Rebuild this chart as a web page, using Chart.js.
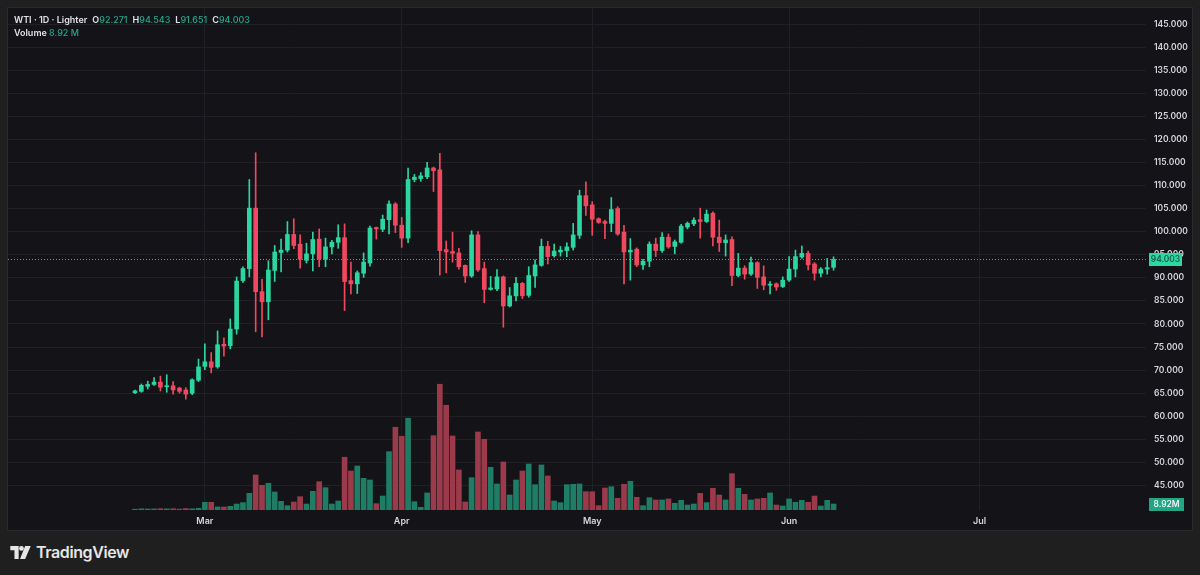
<!DOCTYPE html>
<html>
<head>
<meta charset="utf-8">
<script src="https://cdn.jsdelivr.net/npm/chart.js@4.4.1/dist/chart.umd.min.js"></script>
<style>
  html, body { margin: 0; padding: 0; width: 1200px; height: 575px; overflow: hidden; background: #1f1f1f; font-family: Inter, "Noto Sans", sans-serif; }
  #panel { position: absolute; left: 8px; top: 8px; width: 1184px; height: 522px; background: #131318; outline: 1px solid #2a2a2e; }
  #legend { position: absolute; left: 6px; top: 5px; font-size: 9px; line-height: 13px; color: #e0e2e6; font-weight: 600; z-index: 2; }
  #legend .v { color: #26a68a; font-weight: 500; }
  #legend .gap { display: inline-block; width: 5px; }
  #brand { position: absolute; left: 10px; top: 543px; height: 18px; display: flex; align-items: center; color: #e6e6e6; font-size: 16px; font-weight: 600; letter-spacing: -0.4px; }
  #brand svg { margin-right: 5px; }
</style>
</head>
<body>
<div id="panel">
  <div id="legend">
    <div>WTI · 1D · Lighter<span class="gap"></span>O<span class="v">92.271</span><span class="gap"></span>H<span class="v">94.543</span><span class="gap"></span>L<span class="v">91.651</span><span class="gap"></span>C<span class="v">94.003</span></div>
    <div>Volume <span class="v">8.92 M</span></div>
  </div>
  <canvas id="chart" width="1184" height="522"></canvas>
</div>
<div id="brand">
  <svg width="21" height="13" viewBox="0 0 22 14"><path d="M0 0h9v14h-4.5v-9.5h-4.5z" fill="#e6e6e6"/><circle cx="12" cy="2.6" r="2.6" fill="#e6e6e6"/><path d="M16 0h6l-6 14h-5.5z" fill="#e6e6e6"/></svg>
  TradingView
</div>
<script>
// daily candles, Feb 18 .. Jun 8 (index 0 = Feb 18)
const opens = [65.1,65.4,66.5,66.9,67.4,66.4,66.6,66.1,65.7,65.0,67.8,70.8,71.8,70.7,75.6,75.3,78.9,89.4,92.0,105.1,
  87.0,84.8,91.6,95.5,96.0,99.4,97.3,93.8,95.2,98.4,94.0,96.7,97.7,98.7,89.4,88.7,91.0,93.2,100.9,100.5,
  102.6,106.0,101.4,98.6,111.3,111.5,111.9,113.8,113.4,96.1,95.7,95.4,92.7,90.4,99.3,92.0,87.5,87.6,90.2,83.9,
  86.1,88.8,86.2,90.4,92.7,96.8,94.8,95.6,95.9,96.6,99.2,107.8,105.8,102.8,102.2,101.8,105.0,99.9,95.6,96.2,
  92.8,93.6,97.3,95.9,98.8,96.8,97.7,101.0,101.7,102.6,102.2,104.0,98.8,97.6,98.3,90.5,92.1,90.8,93.3,90.2,
  88.4,88.7,88.1,89.5,91.9,94.5,95.3,93.0,91.0,91.9,92.271];
const highs = [65.7,67.0,67.6,68.4,68.7,69.0,67.5,66.3,66.2,68.1,72.4,75.7,73.8,78.5,77.0,81.1,90.2,92.4,111.3,117.1,
  89.7,93.7,97.0,98.4,102.2,102.8,99.3,97.5,99.9,100.6,98.6,98.1,101.5,101.7,93.4,91.5,95.4,101.2,101.0,103.6,
  106.7,106.3,103.1,113.8,112.4,112.8,115.0,114.0,117.0,98.0,99.9,96.4,92.8,100.2,100.0,93.4,90.3,91.8,90.4,87.9,
  90.1,89.0,92.4,93.9,98.4,97.9,97.3,96.8,97.6,101.8,109.0,110.8,106.5,103.0,102.5,107.4,105.4,101.4,98.5,96.5,
  94.0,97.8,98.6,99.8,99.5,98.2,101.6,102.1,103.0,105.1,104.7,104.3,102.5,99.3,98.9,95.3,92.6,94.5,93.5,92.6,
  89.2,88.9,90.2,94.6,96.0,96.9,95.8,93.3,92.2,94.2,94.543];
const lows = [64.9,65.2,65.9,66.7,65.5,65.2,64.8,65.0,63.7,64.7,67.5,70.1,69.4,70.4,73.0,74.6,77.8,89.0,90.2,78.3,
  77.2,80.9,89.2,91.3,95.6,96.3,92.1,93.2,91.5,92.4,92.4,95.2,96.4,82.9,86.5,86.6,90.1,92.5,98.4,100.0,
  99.5,99.8,96.6,97.6,110.8,110.9,111.5,108.7,90.6,91.1,93.4,91.9,89.0,90.1,91.4,84.6,87.3,87.2,79.3,83.7,
  85.0,85.5,85.8,87.9,92.5,93.0,94.5,94.7,94.6,96.0,98.5,103.5,99.2,101.8,98.5,100.0,99.2,88.7,89.5,92.4,
  91.8,92.4,94.6,95.5,96.4,95.2,97.5,100.6,101.3,98.6,102.0,96.9,95.7,94.7,88.3,90.2,89.7,90.5,87.7,87.4,
  86.5,87.3,87.9,89.2,90.2,94.2,91.7,89.5,90.2,90.8,91.651];
const closes = [65.5,66.7,66.9,67.4,66.3,66.6,65.7,65.4,64.8,67.9,70.7,71.8,70.6,75.5,75.2,78.9,89.3,92.0,105.1,87.0,
  84.8,91.7,95.6,96.0,99.4,97.0,94.0,95.2,98.3,94.1,96.7,97.7,98.7,89.2,88.7,91.1,93.4,100.8,100.6,102.7,
  106.0,101.4,98.6,111.3,111.8,112.1,113.8,113.2,95.9,95.6,95.3,92.4,90.4,99.3,91.7,87.5,87.8,90.2,83.9,86.1,
  88.8,86.1,90.5,92.8,96.8,94.6,95.8,96.0,96.7,99.3,107.8,105.6,102.7,102.0,101.8,104.8,99.5,95.6,96.0,92.8,
  93.6,97.3,95.9,98.8,96.7,97.8,101.2,101.8,102.5,102.2,103.8,98.8,97.6,98.2,90.5,92.1,90.8,93.3,90.1,88.4,
  88.6,88.0,89.5,91.9,94.6,95.3,92.8,91.0,91.9,92.2,94.003];
// volume, millions
const volumes = [1.2,1.8,1.5,1.6,2.0,1.7,1.9,1.4,2.2,1.8,2.5,11.5,11.5,4.5,4.5,5.5,8.9,10.9,24.8,52.0,
  36.7,39.7,26.8,12.9,6.4,11.9,19.8,8.9,27.8,42.1,33.2,8.9,13.4,78.4,58.0,65.4,47.1,44.6,9.4,20.8,
  86.7,123.0,109.6,136.4,12.3,4.0,25.3,110.5,186.9,155.7,110.0,59.5,11.9,48.0,116.0,105.1,63.5,38.7,71.4,22.3,
  44.6,58.0,68.4,37.6,66.9,50.6,13.4,10.9,37.6,38.2,38.7,27.2,27.2,6.4,32.7,34.6,17.4,38.2,42.7,18.9,
  6.4,18.3,14.9,14.9,16.4,10.0,14.4,7.4,8.9,24.8,10.9,32.3,22.3,14.9,54.0,32.3,23.3,14.9,16.4,17.4,
  25.3,7.4,5.9,16.4,11.5,14.4,11.5,20.8,5.9,14.4,8.92];

// month ticks (day index from Feb 18)
const monthTicks = [11, 42, 72, 103, 133];
const monthLabels = ["Mar", "Apr", "May", "Jun", "Jul"];
const priceTicks = [45,50,55,60,65,70,75,80,85,90,95,100,105,110,115,120,125,130,135,140,145];

const upColor = "#2bd6a0";
const downColor = "#f0485f";
const upVol = "#1f7d66";
const downVol = "#9a3a4a";
const font = { family: "Inter, 'Noto Sans', sans-serif", size: 8.5, weight: "600" };

const isUp = opens.map((o, i) => closes[i] >= o);

const lastPrice = {
    id: "lastPrice",
    afterDatasetsDraw(chart) {
        const { ctx, chartArea, scales } = chart;
        const y = Math.round(scales.y.getPixelForValue(closes[closes.length - 1])) + 0.5;
        ctx.save();
        ctx.strokeStyle = "#2bb88f";
        ctx.lineWidth = 1;
        ctx.setLineDash([1, 2]);
        ctx.beginPath();
        ctx.moveTo(chartArea.left, y);
        ctx.lineTo(chartArea.right, y);
        ctx.stroke();
        ctx.restore();
    },
    afterDraw(chart) {
        const { ctx, chartArea, scales } = chart;
        const x = chartArea.right + 3;
        ctx.save();
        ctx.font = "500 8.5px Inter, 'Noto Sans', sans-serif";
        ctx.textBaseline = "middle";
        ctx.textAlign = "center";
        // price label
        let y = Math.round(scales.y.getPixelForValue(closes[closes.length - 1]));
        ctx.fillStyle = "#2bd9a0";
        ctx.fillRect(x, y - 6, 33, 13);
        ctx.fillStyle = "#0f4a3a";
        ctx.fillText(closes[closes.length - 1].toFixed(3), x + 16.5, y + 0.5);
        // volume label
        ctx.fillStyle = "#21a585";
        ctx.fillRect(x, chartArea.bottom - 12, 35, 13);
        ctx.fillStyle = "#ffffff";
        ctx.fillText(volumes[volumes.length - 1].toFixed(2) + "M", x + 17.5, chartArea.bottom - 5.5);
        ctx.restore();
    }
};

new Chart(document.getElementById("chart"), {
    type: "bar",
    data: {
        datasets: [
            {
                label: "body",
                data: opens.map((o, i) => ({ x: i, y: [o, closes[i]] })),
                backgroundColor: isUp.map(u => u ? upColor : downColor),
                barThickness: 4,
                minBarLength: 1,
                grouped: false,
                yAxisID: "y",
                order: 1
            },
            {
                label: "wick",
                data: highs.map((h, i) => ({ x: i, y: [lows[i], h] })),
                backgroundColor: isUp.map(u => u ? upColor : downColor),
                barThickness: 1,
                grouped: false,
                yAxisID: "y",
                order: 2
            },
            {
                label: "Volume",
                data: volumes.map((v, i) => ({ x: i, y: v })),
                backgroundColor: isUp.map(u => u ? upVol : downVol),
                barThickness: 5,
                grouped: false,
                yAxisID: "yVol",
                order: 3
            }
        ]
    },
    options: {
        responsive: false,
        animation: false,
        layout: { padding: 0 },
        plugins: { legend: { display: false }, tooltip: { enabled: false } },
        scales: {
            x: {
                type: "linear",
                min: -20,
                max: 159.2,
                offset: false,
                grid: { color: "#202027", drawTicks: false, offset: false },
                border: { display: false },
                ticks: {
                    color: "#d6d8de",
                    font: { family: font.family, size: 9, weight: "600" },
                    padding: 6,
                    maxRotation: 0,
                    callback: (v) => monthLabels[monthTicks.indexOf(v)]
                },
                afterBuildTicks: (axis) => { axis.ticks = monthTicks.map(v => ({ value: v })); },
                afterFit: (axis) => { axis.height = 20; axis.paddingLeft = 0; axis.paddingRight = 0; }
            },
            y: {
                position: "right",
                min: 39.69,
                max: 148.467,
                grid: { color: "#202027", drawTicks: false },
                border: { display: false },
                ticks: {
                    color: "#d6d8de",
                    font: font,
                    padding: 8,
                    callback: (v) => v.toFixed(3)
                },
                afterBuildTicks: (axis) => { axis.ticks = priceTicks.map(v => ({ value: v })); },
                afterFit: (axis) => { axis.width = 46; axis.paddingTop = 0; axis.paddingBottom = 0; }
            },
            yVol: {
                display: false,
                min: 0,
                max: 746
            }
        }
    },
    plugins: [lastPrice]
});
</script>
</body>
</html>
